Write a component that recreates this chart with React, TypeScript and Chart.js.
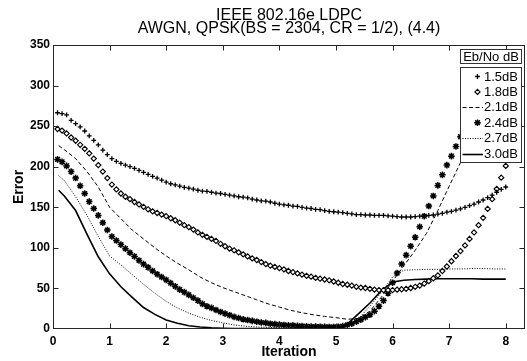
import React, { useEffect, useRef } from 'react';
import { Chart, registerables } from 'chart.js';

Chart.register(...registerables);

const FONT = '"Liberation Sans", Arial, Helvetica, sans-serif';

const TITLE_LINES = ['IEEE 802.16e LDPC', 'AWGN, QPSK(BS = 2304, CR = 1/2), (4.4)'];
const X_TITLE = 'Iteration';
const Y_TITLE = 'Error';
const LEGEND_TITLE = 'Eb/No dB';
const SERIES_LABELS = ['1.5dB', '1.8dB', '2.1dB', '2.4dB', '2.7dB', '3.0dB'];

const X_TICKS = [0, 1, 2, 3, 4, 5, 6, 7, 8];
const Y_TICKS = [0, 50, 100, 150, 200, 250, 300, 350];

// iteration positions of the marker series
const MX = [
  0.08, 0.16, 0.24, 0.32, 0.40, 0.48, 0.56, 0.64, 0.72, 0.80,
  0.88, 0.96, 1.04, 1.12, 1.20, 1.28, 1.36, 1.44, 1.52, 1.60,
  1.68, 1.76, 1.84, 1.92, 2.00, 2.08, 2.16, 2.24, 2.32, 2.40,
  2.48, 2.56, 2.64, 2.72, 2.80, 2.88, 2.96, 3.04, 3.12, 3.20,
  3.28, 3.36, 3.44, 3.52, 3.60, 3.68, 3.76, 3.84, 3.92, 4.00,
  4.08, 4.16, 4.24, 4.32, 4.40, 4.48, 4.56, 4.64, 4.72, 4.80,
  4.88, 4.96, 5.04, 5.12, 5.20, 5.28, 5.36, 5.44, 5.52, 5.60,
  5.68, 5.76, 5.84, 5.92, 6.00, 6.08, 6.16, 6.24, 6.32, 6.40,
  6.48, 6.56, 6.64, 6.72, 6.80, 6.88, 6.96, 7.04, 7.12, 7.20,
  7.28, 7.36, 7.44, 7.52, 7.60, 7.68, 7.76, 7.84, 7.92, 8.00,
];

// iteration positions of the line series
const LX = [
  0.1, 0.2, 0.4, 0.6, 0.8, 1.0, 1.2, 1.4, 1.6, 1.8,
  2.0, 2.2, 2.4, 2.6, 2.8, 3.0, 3.2, 3.4, 3.6, 3.8,
  4.0, 4.2, 4.4, 4.6, 4.8, 5.0, 5.2, 5.4, 5.6, 5.8,
  6.0, 6.2, 6.4, 6.6, 6.8, 7.0, 7.2, 7.4, 7.6, 7.8, 8.0,
];

const ERR_15 = [
  266.5, 265.5, 264, 257, 253, 249, 244, 238, 232.5, 227,
  220.5, 215, 210, 206.5, 204, 202, 200, 198, 195.5, 193,
  190.5, 188, 186, 183.5, 181, 179, 177.5, 176, 174.5, 173.5,
  172.5, 171, 170, 169.5, 168.5, 167.5, 167, 166, 165, 164,
  163, 162.5, 161.5, 160, 159, 158, 157.5, 156.5, 155, 154,
  153, 152.5, 151.5, 151, 150, 149, 148.5, 147.5, 147, 146,
  145, 144.5, 144, 143.5, 142.5, 142, 141, 141, 140.5, 140.5,
  140, 140, 140, 139.5, 139, 138.5, 138, 138, 138, 138.5,
  139, 139.5, 140, 140.5, 141.5, 142.5, 144, 145, 146.5, 148,
  150, 152, 154, 156.5, 159, 162, 165, 168.5, 172, 175,
];

const ERR_18 = [
  246.5, 244.5, 241, 236, 232, 227, 222, 216.5, 210, 202,
  194, 186, 178, 172, 167, 163, 160, 156.5, 153.5, 150.5,
  147.5, 145, 143, 141, 139, 136.5, 134, 131, 128, 125.5,
  122.5, 119, 116, 113.5, 111, 108.5, 105, 102, 99, 97,
  94.5, 92, 89.5, 87, 85, 82.5, 80, 78, 76.5, 75,
  73.5, 71.5, 70, 68.5, 67, 65.5, 64.5, 63, 62, 61,
  60, 58.5, 57, 55.5, 54.5, 53.5, 52, 51, 50.5, 49.5,
  48.5, 48, 48, 48, 48, 48.5, 49, 49.5, 50.5, 52,
  53.5, 56, 59, 62.5, 66, 71.5, 77, 83.5, 90, 96,
  103, 111, 119, 128, 137, 148, 160, 172.5, 186.5, 201,
];

const ERR_21 = [
  226, 221, 210, 194, 175, 150, 136, 122, 111, 100,
  90, 81, 73, 64, 57, 51, 46, 41, 36, 31,
  27, 23, 20, 17.5, 15.5, 14, 12, 13, 22, 39,
  59, 78, 97, 118, 146, 176, 205, 234, 262,
];

const ERR_24 = [
  209, 206, 201, 194, 186, 176.5, 167, 157, 148.5, 140,
  131, 122, 114, 109, 104, 99, 94, 89.5, 84.5, 80,
  76, 71.5, 67.5, 64, 60.5, 56.5, 52.5, 48.5, 45.5, 42,
  38.5, 35, 31, 28, 26, 23.5, 21, 19, 17, 15,
  13.5, 12, 11, 10, 9, 8, 7.5, 6.5, 6, 5.5,
  5, 4.5, 4.5, 4, 3.5, 3.2, 3, 3, 2.8, 2.6,
  2.5, 2.5, 2.8, 3.5, 5, 6.5, 9, 11.5, 14.5, 17.5,
  22, 28, 35, 44, 57, 69, 80, 91, 102, 113,
  126, 139, 151.5, 164, 177, 190, 202, 213, 225, 237,
  249, 261, 273,
];

const ERR_27 = [
  189, 183, 163, 140, 114, 90, 79, 67, 55, 44,
  34, 26, 19.5, 14.5, 10.5, 7.5, 5, 3.5, 2.5, 2,
  1.5, 1.2, 1, 1, 1, 1, 4, 13, 28, 45,
  64, 72.5, 73, 73.5, 73.5, 74, 74, 74.5, 74.5, 74, 74,
];

const ERR_30 = [
  171, 164, 146, 117, 89, 68, 52, 39, 26.5, 18,
  11, 7, 4, 2.5, 1.5, 1, 0.5, 0.5, 0.5, 0.5,
  0.5, 0.5, 0.5, 0.5, 0.5, 0.5, 6, 19, 32, 47,
  58, 60, 61, 61.5, 62, 62, 62, 62, 61.5, 61.5, 61.5,
];

const INK = '#000';
const AXIS_INK = '#262626';

const toXY = (xs: number[], ys: number[]) => ys.map((y, i) => ({ x: xs[i], y }));

type Marker = { kind: 'point' | 'line'; style?: string; radius?: number; width: number; dash?: number[]; fill?: string };

const MARKERS: Marker[] = [
  { kind: 'point', style: 'cross', radius: 2.4, width: 1.3, fill: INK },
  { kind: 'point', style: 'rectRot', radius: 2.6, width: 1.15, fill: '#fff' },
  { kind: 'line', width: 1, dash: [4, 2.5] },
  { kind: 'point', style: 'star', radius: 3.3, width: 1.5, fill: INK },
  { kind: 'line', width: 1, dash: [1, 1.5] },
  { kind: 'line', width: 1.6 },
];

function drawMarker(ctx: CanvasRenderingContext2D, m: Marker, x: number, y: number) {
  const r = m.radius || 2.5;
  ctx.save();
  ctx.strokeStyle = INK;
  ctx.lineWidth = m.width;
  ctx.beginPath();
  if (m.style === 'cross') {
    ctx.moveTo(x - r, y); ctx.lineTo(x + r, y);
    ctx.moveTo(x, y - r); ctx.lineTo(x, y + r);
    ctx.stroke();
  } else if (m.style === 'rectRot') {
    ctx.moveTo(x, y - r); ctx.lineTo(x + r, y); ctx.lineTo(x, y + r); ctx.lineTo(x - r, y); ctx.closePath();
    ctx.fillStyle = '#fff'; ctx.fill(); ctx.stroke();
  } else if (m.style === 'star') {
    const d = r * Math.SQRT1_2;
    ctx.moveTo(x - r, y); ctx.lineTo(x + r, y);
    ctx.moveTo(x, y - r); ctx.lineTo(x, y + r);
    ctx.moveTo(x - d, y - d); ctx.lineTo(x + d, y + d);
    ctx.moveTo(x - d, y + d); ctx.lineTo(x + d, y - d);
    ctx.stroke();
  }
  ctx.restore();
}

const framePlugin = {
  id: 'matlabFrame',
  afterDraw(chart: any) {
    const { ctx, chartArea: a, scales } = chart;
    const xs = scales.x, ys = scales.y;
    const L = Math.round(a.left) + 0.5;
    const R = Math.round(a.right) - 0.5;
    const T = Math.round(a.top) + 0.5;
    const B = Math.round(a.bottom) - 0.5;
    const TICK = 5;
    ctx.save();
    ctx.strokeStyle = AXIS_INK;
    ctx.lineWidth = 1;
    ctx.setLineDash([]);
    ctx.strokeRect(L, T, R - L, B - T);
    ctx.beginPath();
    X_TICKS.forEach((v) => {
      const p = Math.round(xs.getPixelForValue(v)) + 0.5;
      if (p - L < 2 || R - p < 2) return;
      ctx.moveTo(p, B); ctx.lineTo(p, B - TICK);
      ctx.moveTo(p, T); ctx.lineTo(p, T + TICK);
    });
    Y_TICKS.forEach((v) => {
      const p = Math.round(ys.getPixelForValue(v)) + 0.5;
      if (p - T < 2 || B - p < 2) return;
      ctx.moveTo(L, p); ctx.lineTo(L + TICK, p);
      ctx.moveTo(R, p); ctx.lineTo(R - TICK, p);
    });
    ctx.stroke();

    // title
    const cx = (a.left + a.right) / 2;
    ctx.fillStyle = INK;
    ctx.font = `16px ${FONT}`;
    ctx.textAlign = 'center';
    ctx.textBaseline = 'alphabetic';
    ctx.fillText(TITLE_LINES[0], cx, 19.5);
    ctx.fillText(TITLE_LINES[1], cx, 32.5);

    // legend
    const lx = 460.5, lw = 61;
    ctx.strokeStyle = '#333';
    ctx.fillStyle = '#fff';
    ctx.fillRect(lx, 49.5, lw, 14);
    ctx.strokeRect(lx, 49.5, lw, 14);
    ctx.fillRect(lx, 67.5, lw, 95);
    ctx.strokeRect(lx, 67.5, lw, 95);
    ctx.fillStyle = INK;
    ctx.font = `13px ${FONT}`;
    ctx.textBaseline = 'middle';
    ctx.textAlign = 'center';
    ctx.fillText(LEGEND_TITLE, lx + lw / 2, 57);
    ctx.textAlign = 'right';
    SERIES_LABELS.forEach((label, i) => {
      const y = 76.5 + i * 15.4;
      const m = MARKERS[i];
      ctx.fillText(label, 518, y + 0.5);
      if (m.kind === 'point') {
        drawMarker(ctx, m, 477.5, y);
      } else {
        ctx.save();
        ctx.strokeStyle = INK;
        ctx.lineWidth = m.width;
        ctx.setLineDash(m.dash || []);
        ctx.beginPath();
        ctx.moveTo(462.5, Math.round(y) + 0.5);
        ctx.lineTo(483, Math.round(y) + 0.5);
        ctx.stroke();
        ctx.restore();
      }
    });
    ctx.restore();
  },
};

function makeDataset(i: number, xs: number[], ys: number[]) {
  const m = MARKERS[i];
  if (m.kind === 'point') {
    return {
      label: SERIES_LABELS[i],
      data: toXY(xs, ys),
      showLine: false,
      pointStyle: m.style,
      pointRadius: m.radius,
      pointBorderWidth: m.width,
      pointBorderColor: INK,
      pointBackgroundColor: m.fill,
      borderColor: INK,
      backgroundColor: m.fill,
    };
  }
  return {
    label: SERIES_LABELS[i],
    data: toXY(xs, ys),
    showLine: true,
    pointRadius: 0,
    borderColor: INK,
    borderWidth: m.width,
    borderDash: m.dash || [],
    tension: 0,
    fill: false,
  };
}

export default function App() {
  const ref = useRef<HTMLCanvasElement>(null);
  useEffect(() => {
    if (!ref.current) return;
    const tickFont = { family: FONT, size: 12, weight: 'bold' as const };
    const titleFont = { family: FONT, size: 14, weight: 'bold' as const };
    const chart = new Chart(ref.current, {
      type: 'line',
      data: {
        datasets: [
          makeDataset(0, MX, ERR_15),
          makeDataset(1, MX, ERR_18),
          makeDataset(2, LX, ERR_21),
          makeDataset(3, MX, ERR_24),
          makeDataset(4, LX, ERR_27),
          makeDataset(5, LX, ERR_30),
        ] as any,
      },
      options: {
        responsive: false,
        animation: false,
        devicePixelRatio: 1,
        events: [],
        layout: { autoPadding: false, padding: { top: 45, right: 2, bottom: 0, left: 0 } },
        plugins: { legend: { display: false }, title: { display: false }, tooltip: { enabled: false } },
        scales: {
          x: {
            type: 'linear',
            min: 0,
            max: 8.34,
            afterFit: (s: any) => { s.height = 32; s.paddingLeft = 0; s.paddingRight = 0; },
            afterBuildTicks: (s: any) => { s.ticks = X_TICKS.map((v) => ({ value: v })); },
            grid: { display: false, drawTicks: false, tickLength: 0 },
            border: { display: false },
            ticks: { padding: 5, color: INK, font: tickFont, maxRotation: 0, autoSkip: false, includeBounds: false },
            title: { display: true, text: X_TITLE, color: INK, font: titleFont, padding: { top: 0, bottom: 0 } },
          },
          y: {
            type: 'linear',
            min: 0,
            max: 350,
            afterFit: (s: any) => { s.width = 53; s.paddingTop = 0; s.paddingBottom = 0; },
            afterBuildTicks: (s: any) => { s.ticks = Y_TICKS.map((v) => ({ value: v })); },
            grid: { display: false, drawTicks: false, tickLength: 0 },
            border: { display: false },
            ticks: { padding: 3, color: INK, font: tickFont, autoSkip: false },
            title: { display: true, text: Y_TITLE, color: INK, font: titleFont, padding: { top: 10.5, bottom: 0 } },
          },
        },
      } as any,
      plugins: [framePlugin],
    });
    return () => chart.destroy();
  }, []);
  return (
    <div style={{ position: 'fixed', left: 0, top: 0, width: 527, height: 361, background: '#fff' }}>
      <canvas ref={ref} width={527} height={361} style={{ display: 'block', width: 527, height: 361 }} />
    </div>
  );
}
